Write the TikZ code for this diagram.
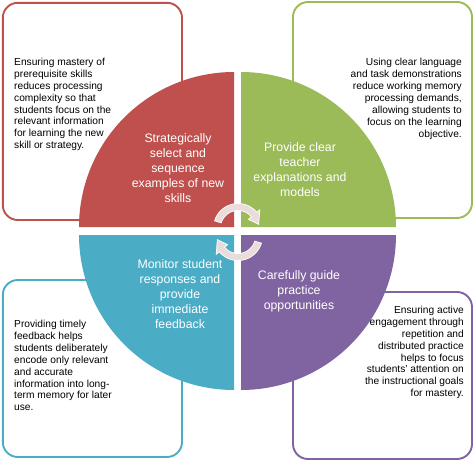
\documentclass[tikz,border=0pt]{standalone}
\usepackage{fontspec}
\setmainfont{Liberation Sans}
\definecolor{cred}{HTML}{C0504D}
\definecolor{cgreen}{HTML}{9BBB59}
\definecolor{cblue}{HTML}{4BACC6}
\definecolor{cpurple}{HTML}{8064A2}
\definecolor{carrow}{HTML}{EBDCDC}
\begin{document}
\begin{tikzpicture}[x=1pt,y=-1pt,
  infobox/.style={line width=1.9pt,rounded corners=15pt,fill=white},
  boxtext/.style={inner sep=0pt,font=\fontsize{10.2}{11.9}\selectfont,text=black},
  quadtext/.style={inner sep=0pt,align=center,text=white,font=\fontsize{12.3}{15}\selectfont},
  cyclearrow/.style={fill=carrow,draw=white,line width=0.7pt}]
\useasboundingbox (0,0) rectangle (474,463);
% boxes
\draw[infobox,draw=cred] (2.8,2.8) rectangle (182,220);
\draw[infobox,draw=cgreen] (293,2) rectangle (472,218);
\draw[infobox,draw=cblue] (2.8,280) rectangle (182,457);
\draw[infobox,draw=cpurple] (293,292) rectangle (472,459);
% quadrants
\fill[cred] (234,227) -- plot[domain=-90:-180,samples=80] ({234+155*cos(\x)},{227+155*sin(\x)}) -- cycle;
\fill[cgreen] (241,227) -- plot[domain=-90:0,samples=80] ({241+155*cos(\x)},{227+155*sin(\x)}) -- cycle;
\fill[cblue] (234,235) -- plot[domain=90:180,samples=80] ({234+155*cos(\x)},{235+155*sin(\x)}) -- cycle;
\fill[cpurple] (241,235) -- plot[domain=0:90,samples=80] ({241+155*cos(\x)},{235+155*sin(\x)}) -- cycle;
% box texts
\node[boxtext,anchor=west,align=left] (tred) at (14,104.5) {Ensuring mastery of\\prerequisite skills\\reduces processing\\complexity so that\\students focus on the\\relevant information\\for learning the new\\skill or strategy.};
\node[boxtext,anchor=east,align=right] (tgreen) at (462,99) {Using clear language\\and task demonstrations\\reduce working memory\\processing demands,\\allowing students to\\focus on the learning\\objective.};
\node[boxtext,anchor=west,align=left] (tblue) at (14,365.5) {Providing timely\\feedback helps\\students deliberately\\encode only relevant\\and accurate\\information into long-\\term memory for later\\use.};
\node[boxtext,anchor=east,align=right] (tpurple) at (464,352.5) {Ensuring active\\engagement through\\repetition and\\distributed practice\\helps to focus\\students' attention on\\the instructional goals\\for mastery.};
% quadrant texts
\node[quadtext] (qred) at (178,168) {Strategically\\select and\\sequence\\examples of new\\skills};
\node[quadtext] (qgreen) at (300,169.5) {Provide clear\\teacher\\explanations and\\models};
\node[quadtext] (qblue) at (180,294) {Monitor student\\responses and\\provide\\immediate\\feedback};
\node[quadtext] (qpurple) at (299,291) {Carefully guide\\practice\\opportunities};
% cycle arrows
\filldraw[cyclearrow] plot[domain=-163:-40,samples=40] ({238+24.5*cos(\x)},{228+24.5*sin(\x)})
  -- ({238+28.5*cos(-40)},{228+28.5*sin(-40)})
  -- ({238+21*cos(-10)},{228+21*sin(-10)})
  -- ({238+13.5*cos(-40)},{228+13.5*sin(-40)})
  -- plot[domain=-40:-163,samples=40] ({238+17.5*cos(\x)},{228+17.5*sin(\x)}) -- cycle;
\filldraw[cyclearrow] plot[domain=17:140,samples=40] ({238+24.5*cos(\x)},{236+24.5*sin(\x)})
  -- ({238+28.5*cos(140)},{236+28.5*sin(140)})
  -- ({238+21*cos(170)},{236+21*sin(170)})
  -- ({238+13.5*cos(140)},{236+13.5*sin(140)})
  -- plot[domain=140:17,samples=40] ({238+17.5*cos(\x)},{236+17.5*sin(\x)}) -- cycle;
\end{tikzpicture}
\end{document}
